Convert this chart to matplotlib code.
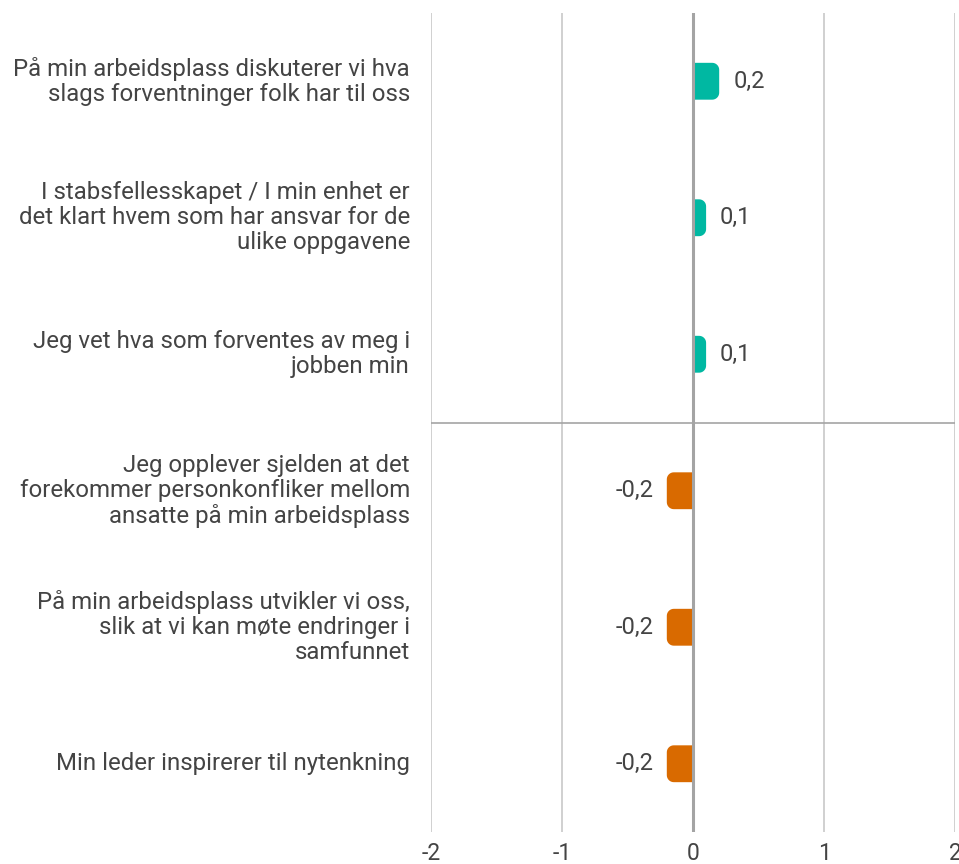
import matplotlib
matplotlib.use("Agg")
import matplotlib.pyplot as plt
from matplotlib.patches import Polygon
import numpy as np

plt.rcParams['font.family'] = ['Roboto', 'DejaVu Sans']

categories = [
    "På min arbeidsplass diskuterer vi hva\nslags forventninger folk har til oss",
    "I stabsfellesskapet / I min enhet er\ndet klart hvem som har ansvar for de\nulike oppgavene",
    "Jeg vet hva som forventes av meg i\njobben min",
    "Jeg opplever sjelden at det\nforekommer personkonfliker mellom\nansatte på min arbeidsplass",
    "På min arbeidsplass utvikler vi oss,\nslik at vi kan møte endringer i\nsamfunnet",
    "Min leder inspirerer til nytenkning",
]
values = [0.2, 0.1, 0.1, -0.2, -0.2, -0.2]
labels = ["0,2", "0,1", "0,1", "-0,2", "-0,2", "-0,2"]
xticks = [-2, -1, 0, 1, 2]

pos_color = '#00b8a2'
neg_color = '#d96a00'
text_color = '#444444'

W, H = 959, 864
fig = plt.figure(figsize=(W / 100, H / 100), dpi=100)
# axes box in pixels: x 431..955, y 13..832
ax = fig.add_axes([431 / W, 1 - 832 / H, (955 - 431) / W, (832 - 13) / H])
ax.set_xlim(-2, 2)
ax.set_ylim(5.5, -0.5)
for s in ax.spines.values():
    s.set_visible(False)
ax.set_yticks([])
ax.set_xticks(xticks)
ax.set_xticklabels([str(t) for t in xticks])
ax.tick_params(axis='x', length=0, pad=7, labelsize=16.5, labelcolor=text_color)

for t in xticks:
    ax.axvline(t, color='#a4a4a4' if t == 0 else '#c8c8c8',
               lw=2.2 if t == 0 else 1.2, zorder=3 if t == 0 else 1)
ax.axhline(2.5, color='#a4a4a4', lw=1.2, zorder=1)

px_x = 131.0
px_y = 136.5


def bar_shape(v, yc, h, r_px=7):
    # bar with rounded corners at the outer end only
    rx = r_px / px_x
    ry = r_px / px_y
    s = 1 if v > 0 else -1
    cx = v - s * rx
    top = yc - h / 2
    bot = yc + h / 2
    pts = [(0, top)]
    for t in np.linspace(-np.pi / 2, 0, 10):
        pts.append((cx + s * rx * np.cos(t), top + ry + ry * np.sin(t)))
    for t in np.linspace(0, np.pi / 2, 10):
        pts.append((cx + s * rx * np.cos(t), bot - ry + ry * np.sin(t)))
    pts.append((0, bot))
    return pts


bh = 0.27
for i, v in enumerate(values):
    c = pos_color if v > 0 else neg_color
    ax.add_patch(Polygon(bar_shape(v, i, bh), closed=True, fc=c, ec='none', zorder=2))
    if v > 0:
        ax.text(v + 14 / px_x, i, labels[i], ha='left', va='center',
                fontsize=17, color=text_color)
    else:
        ax.text(v - 13 / px_x, i, labels[i], ha='right', va='center',
                fontsize=17, color=text_color)
    ax.text(-2 - 21 / px_x, i, categories[i], ha='right', va='center',
            fontsize=17.3, color=text_color, linespacing=1.1)

fig.savefig("out.png", dpi=100)
